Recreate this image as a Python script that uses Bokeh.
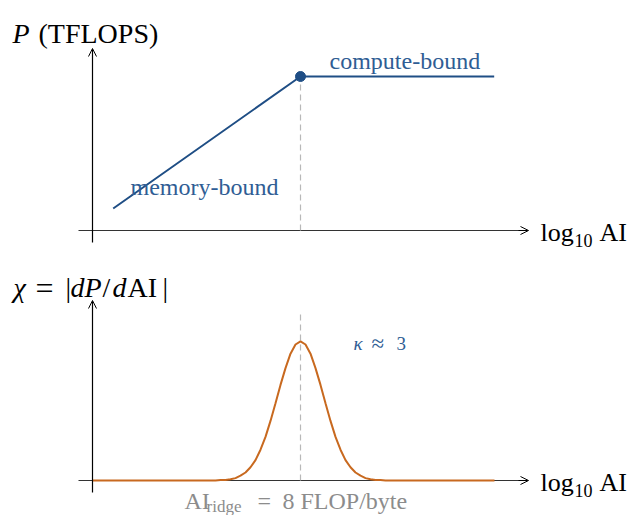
import numpy as np
from bokeh.plotting import figure
from bokeh.models import Range1d, Arrow, OpenHead
from bokeh.core.properties import value
from bokeh.embed import file_html
from bokeh.resources import INLINE

# ---- data -------------------------------------------------------------
RIDGE_AI = 8.0                      # FLOP/byte
ridge = np.log10(RIDGE_AI)          # position of the ridge on the log10 AI axis

# roofline: memory-bound slope, then flat compute roof (P in arbitrary units)
roof_log_ai = [-0.97, ridge, 2.84]
roof_p = [0.55, 3.85, 3.85]

# chi = |dP/dAI|, sampled around the ridge (offsets in decades of AI)
chi_dlog = [-2.08, -0.85, -0.80, -0.75, -0.70, -0.65, -0.60, -0.55, -0.50, -0.45,
            -0.40, -0.35, -0.30, -0.25, -0.20, -0.15, -0.10, -0.05, 0.00,
            0.05, 0.10, 0.15, 0.20, 0.25, 0.30, 0.35, 0.40, 0.45, 0.50,
            0.55, 0.60, 0.65, 0.70, 0.75, 0.80, 0.85, 1.94]
chi_vals = [0.00, 0.00, 0.01, 0.01, 0.03, 0.06, 0.12, 0.20, 0.33, 0.51,
            0.77, 1.09, 1.49, 1.93, 2.39, 2.81, 3.17, 3.40, 3.48,
            3.40, 3.17, 2.81, 2.39, 1.93, 1.49, 1.09, 0.77, 0.51, 0.33,
            0.20, 0.12, 0.06, 0.03, 0.01, 0.01, 0.00, 0.00]

BLUE = "#1f4e85"
BLUE_TXT = "#2f5d94"
ORANGE = "#c8691f"
GRAY = "#8c8c8c"
DASH = "#b8b8b8"
FONT = value("Liberation Serif, Times New Roman, serif")

# ---- canvas -----------------------------------------------------------
p = figure(width=630, height=515, output_backend="svg", toolbar_location=None,
           x_range=Range1d(ridge - 3.0, ridge + 3.3),
           y_range=Range1d(-7.125, 5.75),
           x_axis_type=None, y_axis_type=None, min_border=0)
p.extra_y_ranges = {"chi": Range1d(-0.875, 12.0)}
p.grid.visible = False
p.outline_line_color = None
p.background_fill_color = "white"

x0 = ridge - 2.08          # where the drawn vertical axes sit
xl, xr = ridge - 2.22, ridge + 2.28


def axes(rng, ytop):
    kw = {} if rng is None else {"y_range_name": rng}
    p.segment(x0=[xl], y0=[0], x1=[xr - 0.05], y1=[0], line_color="#333333",
              line_width=1.2, **kw)
    p.add_layout(Arrow(end=OpenHead(size=8, line_width=1, line_color="black"),
                       x_start=xr - 0.1, y_start=0, x_end=xr, y_end=0,
                       line_width=1, line_color="black", **kw))
    p.add_layout(Arrow(end=OpenHead(size=8, line_width=1, line_color="black"),
                       x_start=x0, y_start=-0.3, x_end=x0, y_end=ytop,
                       line_width=1.2, line_color="black", **kw))


def txt(x, y, s, size, color="black", style="normal", rng=None):
    kw = {} if rng is None else {"y_range_name": rng}
    p.text(x=[x], y=[y], text=[s], text_font=FONT, text_font_size=size,
           text_font_style=style, text_color=color, text_align="left",
           text_baseline="alphabetic", **kw)


def axis_name(rng):
    txt(ridge + 2.40, -0.04, "log", "26px", rng=rng)
    txt(ridge + 2.74, -0.25, "10", "18px", rng=rng)
    txt(ridge + 2.99, -0.04, "AI", "26px", rng=rng)


# ---- top panel: roofline ----------------------------------------------
axes(None, 4.55)
p.segment(x0=[ridge], y0=[0], x1=[ridge], y1=[roof_p[1]], line_color=DASH,
          line_width=1.2, line_dash="6 4")
p.line(roof_log_ai, roof_p, line_color=BLUE, line_width=2)
p.scatter([ridge], [roof_p[1]], size=10, color=BLUE)

txt(ridge - 2.88, 4.925, "P", "28px", style="italic")
txt(ridge - 2.62, 4.925, "(TFLOPS)", "28px")
txt(ridge + 0.29, 4.24, "compute-bound", "24px", BLUE_TXT)
txt(ridge - 1.70, 1.10, "memory-bound", "24px", BLUE_TXT)
axis_name(None)

# ---- bottom panel: chi ------------------------------------------------
axes("chi", 4.5)
p.segment(x0=[ridge], y0=[0], x1=[ridge], y1=[4.175], line_color=DASH,
          line_width=1.2, line_dash="6 4", y_range_name="chi")
p.line([ridge + d for d in chi_dlog], chi_vals, line_color=ORANGE,
       line_width=2, y_range_name="chi")

yb = 4.825
txt(ridge - 2.87, yb, "χ", "28px", style="italic", rng="chi")
txt(ridge - 2.65, yb, "=", "32px", rng="chi")
txt(ridge - 2.35, yb, "|", "28px", rng="chi")
txt(ridge - 2.30, yb, "dP", "28px", style="italic", rng="chi")
txt(ridge - 1.98, yb, "/", "28px", rng="chi")
txt(ridge - 1.88, yb, "d", "28px", style="italic", rng="chi")
txt(ridge - 1.73, yb, "AI", "28px", rng="chi")
txt(ridge - 1.38, yb, "|", "28px", rng="chi")

txt(ridge + 0.53, 3.425, "κ", "19px", BLUE_TXT, style="italic", rng="chi")
txt(ridge + 0.71, 3.425, "≈", "23px", BLUE_TXT, rng="chi")
txt(ridge + 0.96, 3.425, "3", "19px", BLUE_TXT, rng="chi")

txt(ridge - 1.16, -0.52, "AI", "24px", GRAY, rng="chi")
txt(ridge - 0.94, -0.64, "ridge", "17px", GRAY, rng="chi")
txt(ridge - 0.43, -0.52, "=", "24px", GRAY, rng="chi")
txt(ridge - 0.18, -0.52, "8 FLOP/byte", "24px", GRAY, rng="chi")

axis_name("chi")

open("out.html", "w").write(file_html(p, INLINE))
